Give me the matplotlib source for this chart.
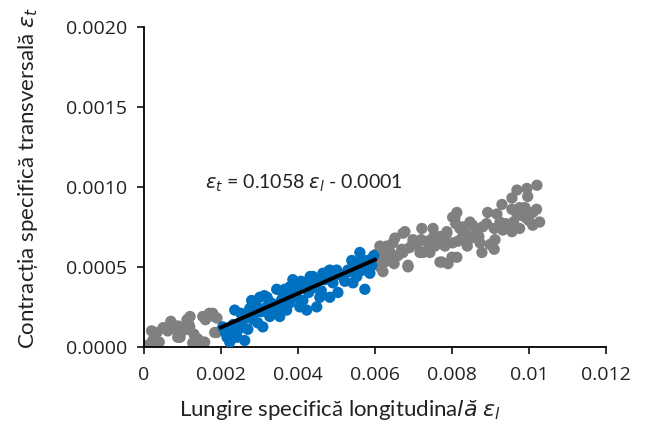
import numpy as np
import matplotlib.pyplot as plt

plt.rcParams['font.family'] = ['Lato', 'DejaVu Sans']
plt.rcParams['mathtext.fontset'] = 'dejavusans'

# grey points: the whole test (outside the fitted range)
grey_x = [0.0001, 0.00023, 0.00029, 0.00062, 0.00075, 0.00088, 0.00094, 0.00112,
          0.00117, 0.00114, 0.00127, 0.00151, 0.00153, 0.00177, 0.00184, 0.0017,
          0.00182, 0.00119, 0.00062, 0.00088, 0.00034, 0.00005, 0.0004, 0.00158,
          0.00189, 0.00179, 0.0005, 0.0007, 0.0009, 0.001, 0.0013, 0.0014,
          0.0016, 0.0019, 0.0002, 0.0012,
          0.01021, 0.00995, 0.00969, 0.00956, 0.00997, 0.0093, 0.00956, 0.00976,
          0.00995, 0.0101, 0.01028, 0.0101, 0.00976, 0.00956, 0.00932, 0.00893,
          0.00917, 0.00925, 0.00912, 0.00899, 0.00878, 0.00873, 0.00865, 0.00854,
          0.00847, 0.00813, 0.00808, 0.00821, 0.00826, 0.00815, 0.008, 0.00813,
          0.00787, 0.00769, 0.00751, 0.00722, 0.00769, 0.00756, 0.00735, 0.00717,
          0.00699, 0.00678, 0.00686, 0.00652, 0.00631, 0.00626, 0.00621, 0.0067,
          0.00743, 0.00782, 0.00613, 0.00647, 0.00673, 0.00673, 0.00699, 0.00725,
          0.0075, 0.00774, 0.00787, 0.00802, 0.00802, 0.00686, 0.00621, 0.00639,
          0.00613, 0.00604, 0.00608, 0.0096, 0.0099, 0.0084, 0.0088,
          0.0062, 0.0064, 0.0066, 0.0069, 0.0071, 0.0072, 0.0074, 0.0076,
          0.0078, 0.0081, 0.0083, 0.0085, 0.0087, 0.0089, 0.0091, 0.0094,
          0.0097, 0.0099, 0.0102, 0.0100, 0.0084, 0.0091, 0.0079, 0.0065]
grey_y = [0.00001, 0.00004, 0.00009, 0.000125, 0.00014, 0.00009, 0.00006, 0.00017,
          0.00014, 0.00011, 0.000025, 0.00003, 0.00019, 0.0002, 0.00009, 0.00021,
          0.00019, 0.000125, 0.0001, 0.00006, 0.00009, 0.0, 0.00003, 0.00003,
          0.00009, 0.00021, 0.00012, 0.00016, 0.00013, 0.0001, 0.00008, 0.00005,
          0.00017, 0.00018, 0.0001, 0.00019,
          0.00101, 0.00099, 0.00098, 0.00093, 0.00094, 0.00089, 0.00086, 0.00087,
          0.00084, 0.00084, 0.00078, 0.00076, 0.00074, 0.00072, 0.00073, 0.00084,
          0.00083, 0.00078, 0.00067, 0.00064, 0.00059, 0.00065, 0.00071, 0.00076,
          0.00078, 0.00084, 0.00081, 0.00074, 0.00068, 0.00066, 0.00056, 0.00056,
          0.00072, 0.00069, 0.00074, 0.00074, 0.00053, 0.00063, 0.00066, 0.00059,
          0.00067, 0.00072, 0.0005, 0.00068, 0.00063, 0.00053, 0.00047, 0.00061,
          0.00059, 0.00063, 0.00063, 0.00065, 0.00071, 0.00059, 0.00065, 0.00059,
          0.00068, 0.00053, 0.00071, 0.00081, 0.00065, 0.00051, 0.00054, 0.00056,
          0.0005, 0.00058, 0.00055, 0.00078, 0.00081, 0.0007, 0.00075,
          0.00057, 0.00059, 0.00057, 0.00062, 0.00064, 0.00067, 0.00062, 0.00067,
          0.00066, 0.00077, 0.00075, 0.00068, 0.00069, 0.00077, 0.00074, 0.00077,
          0.00082, 0.00087, 0.00086, 0.00079, 0.00063, 0.00061, 0.00052, 0.00052]

# blue points: range used for the linear fit
blue_x = [0.00205, 0.00216, 0.00223, 0.00242, 0.00236, 0.00257, 0.0027, 0.00288,
          0.0028, 0.00301, 0.00327, 0.0034, 0.00309, 0.00327, 0.00353, 0.00371,
          0.00379, 0.00387, 0.00397, 0.00413, 0.00418, 0.00436, 0.00439, 0.00457,
          0.00465, 0.00483, 0.00491, 0.00504, 0.00501, 0.00517, 0.0054, 0.00543,
          0.00561, 0.00569, 0.00587, 0.00582, 0.00553, 0.00449, 0.00423, 0.00405,
          0.00361, 0.00345, 0.00249, 0.00262, 0.00216, 0.00296, 0.00319, 0.00483,
          0.0053, 0.00475, 0.00379, 0.00592, 0.00597, 0.00574,
          0.00212, 0.00228, 0.00232, 0.00246, 0.00252, 0.00265, 0.00275, 0.00284,
          0.00292, 0.00305, 0.00313, 0.0032, 0.00333, 0.00337, 0.00348, 0.00357,
          0.00366, 0.00373, 0.00384, 0.00392, 0.00401, 0.00408, 0.00428, 0.00432,
          0.00445, 0.00452, 0.00461, 0.0047, 0.00478, 0.00487, 0.00496, 0.0051,
          0.00522, 0.00535, 0.00548, 0.00558, 0.00565, 0.00578, 0.00585]
blue_y = [0.000125, 0.00006, 0.00003, 0.00006, 0.00023, 0.00017, 0.00011, 0.00021,
          0.00029, 0.00031, 0.00028, 0.00023, 0.000125, 0.00019, 0.00019, 0.00023,
          0.000375, 0.00042, 0.00031, 0.00029, 0.0004, 0.000375, 0.00044, 0.00031,
          0.00046, 0.00048, 0.0004, 0.00034, 0.00048, 0.00044, 0.00054, 0.0004,
          0.00059, 0.00048, 0.00046, 0.00054, 0.00044, 0.00025, 0.00023, 0.00025,
          0.00031, 0.00036, 0.00015, 0.00004, 0.00011, 0.00015, 0.00025, 0.00031,
          0.00048, 0.00044, 0.000275, 0.00051, 0.00057, 0.00036,
          0.00009, 0.00008, 0.00014, 0.00011, 0.00021, 0.00018, 0.00024, 0.00017,
          0.00026, 0.00022, 0.00032, 0.00031, 0.00027, 0.00021, 0.00025, 0.00029,
          0.00036, 0.00033, 0.00035, 0.00038, 0.00036, 0.00041, 0.00034, 0.00044,
          0.00037, 0.00042, 0.00035, 0.00042, 0.00047, 0.00044, 0.00046, 0.00045,
          0.00041, 0.00047, 0.00052, 0.00047, 0.00055, 0.00051, 0.00049]

slope = 0.1058
intercept = -0.0001
fit_range = [0.002, 0.006]

fig = plt.figure(figsize=(6.48, 4.32), dpi=100)
ax = fig.add_axes([0.222, 0.197, 0.713, 0.741])

ax.scatter(grey_x, grey_y, s=66, color='#808080', edgecolors='none', zorder=2)
ax.scatter(blue_x, blue_y, s=66, color='#0070C0', edgecolors='none', zorder=3)
fx = np.array(fit_range)
ax.plot(fx, slope * fx + intercept + 0.00001, color='black', lw=2.8, zorder=4)

ax.text(0.00158, 0.00102, r'$\varepsilon_t$ = 0.1058 $\varepsilon_l$ - 0.0001',
        fontsize=14, va='center', ha='left', color='#222222')

ax.set_xlim(0, 0.012)
ax.set_ylim(0, 0.002)
ax.set_xticks([0, 0.002, 0.004, 0.006, 0.008, 0.01, 0.012])
ax.set_xticklabels(['0', '0.002', '0.004', '0.006', '0.008', '0.01', '0.012'])
ax.set_yticks([0, 0.0005, 0.001, 0.0015, 0.002])
ax.set_yticklabels(['0.0000', '0.0005', '0.0010', '0.0015', '0.0020'])
for lbl in ax.get_xticklabels() + ax.get_yticklabels():
    lbl.set_family(['Open Sans', 'DejaVu Sans'])

for s in ['top', 'right']:
    ax.spines[s].set_visible(False)
for s in ['left', 'bottom']:
    ax.spines[s].set_linewidth(1.3)
ax.tick_params(direction='out', length=5, width=1.3, labelsize=14,
               colors='#222222', pad=7)
ax.tick_params(axis='x', pad=9)

ax.set_xlabel(r'Lungire specifică longitudina$\it{lă}$ $\varepsilon_l$',
              fontsize=16, color='#222222')
ax.set_ylabel(r'Contracția specifică transversală $\varepsilon_t$',
              fontsize=16, color='#222222')
ax.xaxis.set_label_coords(0.424, -0.16)
ax.yaxis.set_label_coords(-0.225, 0.528)

fig.savefig('out.png', dpi=100)
